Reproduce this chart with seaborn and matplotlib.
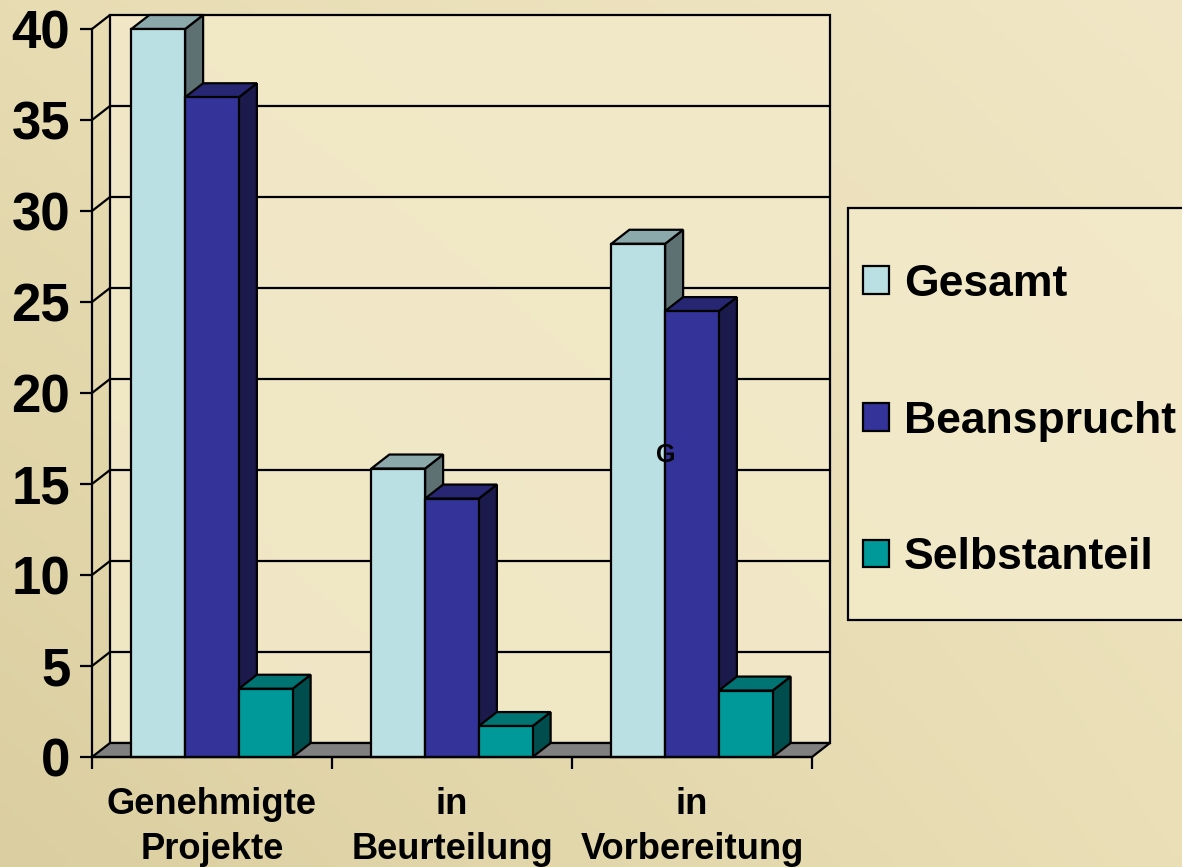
import numpy as np
import pandas as pd
import seaborn as sns
import matplotlib
matplotlib.use("Agg")
import matplotlib.pyplot as plt
from matplotlib.colors import to_rgb, to_rgba
from matplotlib.patches import Patch, Polygon, Rectangle

categories = ["Genehmigte\nProjekte", "in\nBeurteilung", "in\nVorbereitung"]
series_names = ["Gesamt", "Beansprucht", "Selbstanteil"]
gesamt = [40.0, 15.85, 28.2]
beansprucht = [36.25, 14.2, 24.5]
selbstanteil = [3.75, 1.7, 3.65]
y_ticks = [0, 5, 10, 15, 20, 25, 30, 35, 40]
series_colors = ["#BAE0E4", "#333399", "#009999"]

W, H, DPI = 1182, 867, 100
DX, DY = 18 / 240, 14 / 18.2   # depth of the pseudo-3D box, in data units
PANEL = to_rgba("#F3EACA", 0.85)

sns.set_theme(style="white")
plt.rcParams["font.family"] = ["Liberation Sans", "DejaVu Sans"]
plt.rcParams["font.weight"] = "bold"

fig = plt.figure(figsize=(W / DPI, H / DPI), dpi=DPI)

# soft parchment backdrop
bg = fig.add_axes([0, 0, 1, 1], zorder=-5)
corners = np.array([[to_rgb("#E7DCB2"), to_rgb("#F1E7C6")],
                    [to_rgb("#DBCFA1"), to_rgb("#EADFB6")]])
bg.imshow(corners, aspect="auto", interpolation="bilinear", extent=(-0.5, 1.5, 1.5, -0.5))
bg.set_xlim(0, 1)
bg.set_ylim(1, 0)
bg.axis("off")

ax = fig.add_axes([92 / W, 1 - 757 / H, 720 / W, 728 / H])
ax.patch.set_alpha(0)

df = pd.DataFrame({
    "cat": categories * 3,
    "series": np.repeat(series_names, 3),
    "value": gesamt + beansprucht + selbstanteil,
})
sns.barplot(data=df, x="cat", y="value", hue="series", order=categories,
            hue_order=series_names, palette=series_colors, saturation=1,
            width=0.672, gap=0, edgecolor="black", linewidth=1.6,
            legend=False, ax=ax)
ax.set_xlim(-0.5, 2.5)
ax.set_ylim(0, 40)
ax.set_xlabel("")
ax.set_ylabel("")

# back wall, floor, gridlines
ax.add_patch(Rectangle((-0.5 + DX, DY), 3, 40, fc=PANEL, ec="black",
                       lw=1.6, clip_on=False, zorder=1))
ax.add_patch(Polygon([(-0.5, 0), (-0.5 + DX, DY), (2.5 + DX, DY), (2.5, 0)],
                     fc="#808080", ec="black", lw=1.6, clip_on=False, zorder=2))
for v in y_ticks[1:-1]:
    ax.plot([-0.5, -0.5 + DX, 2.5 + DX], [v, v + DY, v + DY], color="black",
            lw=1.6, clip_on=False, zorder=2, solid_joinstyle="miter")
ax.plot([-0.5, -0.5 + DX], [40, 40 + DY], color="black", lw=1.6, clip_on=False, zorder=2)

# pseudo-3D faces derived from the bars seaborn drew
bars = sorted([p for p in ax.patches if isinstance(p, Rectangle) and p.get_height() > 0 and p.get_width() < 0.3],
              key=lambda p: p.get_x())
for rank, bar in enumerate(bars):
    x0, w, h = bar.get_x(), bar.get_width(), bar.get_height()
    base = np.array(bar.get_facecolor()[:3])
    z = 10 + 2 * rank
    bar.set_zorder(z + 1)
    bar.set_clip_on(False)
    ax.add_patch(Polygon([(x0 + w, 0), (x0 + w + DX, DY), (x0 + w + DX, h + DY), (x0 + w, h)],
                         fc=base * 0.5, ec="black", lw=1.6, clip_on=False, zorder=z,
                         joinstyle="miter"))
    ax.add_patch(Polygon([(x0, h), (x0 + DX, h + DY), (x0 + w + DX, h + DY), (x0 + w, h)],
                         fc=base * 0.75, ec="black", lw=1.6, clip_on=False, zorder=z,
                         joinstyle="miter"))

# axes
sns.despine(ax=ax, top=True, right=True)
for s in ("left", "bottom"):
    ax.spines[s].set_color("black")
    ax.spines[s].set_linewidth(1.6)
    ax.spines[s].set_zorder(60)
ax.set_yticks(y_ticks)
ax.set_yticklabels([str(v) for v in y_ticks], fontsize=38, fontweight="bold", color="black")
ax.tick_params(axis="y", left=True, length=8.6, width=1.6, color="black", pad=7)
ax.set_xticks([-0.5, 0.5, 1.5, 2.5])
ax.set_xticklabels([])
ax.tick_params(axis="x", which="major", bottom=True, length=8.6, width=1.6, color="black")
ax.set_xticks([0, 1, 2], minor=True)
ax.set_xticklabels(categories, minor=True, fontsize=26.2, fontweight="bold", color="black",
                   linespacing=1.36)
ax.tick_params(axis="x", which="minor", bottom=False, length=0, pad=21.5)

ax.text((666 - 92) / 240 - 0.5, (757 - 455) / 18.2, "G", fontsize=18, fontweight="bold",
        ha="center", va="center", color="black", zorder=70)

# legend
fig.add_artist(Rectangle((848 / W, 1 - 620 / H), (W + 20 - 848) / W, 412 / H,
                         transform=fig.transFigure, fc=PANEL, ec="black", lw=1.6))
handles = [Patch(facecolor=c, edgecolor="black", linewidth=1.6, label=n)
           for c, n in zip(series_colors, series_names)]
fig.legend(handles=handles, loc="upper left", bbox_to_anchor=(863 / W, 1 - 264 / H),
           bbox_transform=fig.transFigure, frameon=False,
           prop={"size": 32, "weight": "bold"}, borderpad=0, borderaxespad=0,
           handlelength=0.58, handleheight=0.58, handletextpad=0.34, labelspacing=2.15,
           labelcolor="black")

fig.savefig("out.png", dpi=DPI)
